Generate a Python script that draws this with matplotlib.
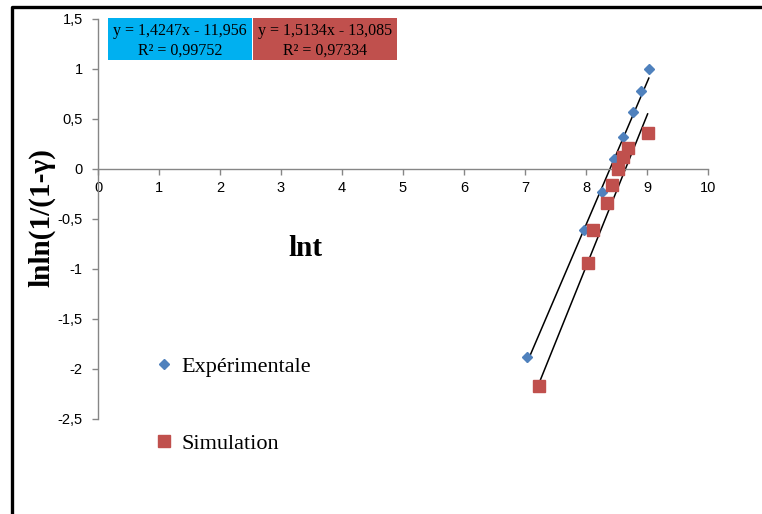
import numpy as np
import matplotlib.pyplot as plt
from matplotlib.lines import Line2D
from matplotlib.patches import Rectangle

# data
exp_x = [7.04, 7.96, 8.27, 8.46, 8.61, 8.77, 8.90, 9.03]
exp_y = [-1.88, -0.61, -0.23, 0.10, 0.32, 0.57, 0.78, 1.00]
sim_x = [7.23, 8.04, 8.12, 8.35, 8.43, 8.53, 8.61, 8.69, 9.01]
sim_y = [-2.17, -0.94, -0.61, -0.34, -0.16, 0.00, 0.12, 0.21, 0.36]

# trendline coefficients as printed on the chart
exp_fit = (1.4247, -11.956, 0.99752)
sim_fit = (1.5134, -13.085, 0.97334)

x_ticks = [0, 1, 2, 3, 4, 5, 6, 7, 8, 9, 10]
y_ticks = [-2.5, -2, -1.5, -1, -0.5, 0, 0.5, 1, 1.5]
y_labels = ['-2,5', '-2', '-1,5', '-1', '-0,5', '0', '0,5', '1', '1,5']

blue = '#4F81BD'
red = '#C0504D'
axis_grey = '#868686'

W, H = 762, 514
fig = plt.figure(figsize=(W / 100, H / 100), dpi=100)
ax = fig.add_axes([98 / W, 1 - 419 / H, 610 / W, 400 / H])

ax.plot(exp_x, exp_y, 'D', color=blue, markersize=5.6, label='Expérimentale', zorder=3)
ax.plot(sim_x, sim_y, 's', color=red, markersize=8, label='Simulation', zorder=3)

for xs, (a, b, r2) in [(exp_x, exp_fit), (sim_x, sim_fit)]:
    xx = np.array([min(xs), max(xs)])
    ax.plot(xx, a * xx + b, color='black', lw=1.1, zorder=2)

ax.set_xlim(0, 10)
ax.set_ylim(-2.5, 1.5)
ax.set_xticks(x_ticks)
ax.set_xticklabels([str(t) for t in x_ticks])
ax.set_yticks(y_ticks)
ax.set_yticklabels(y_labels)

for s in ['top', 'right']:
    ax.spines[s].set_visible(False)
ax.spines['bottom'].set_position(('data', 0))
for s in ['bottom', 'left']:
    ax.spines[s].set_color(axis_grey)
    ax.spines[s].set_linewidth(1.0)
ax.tick_params(axis='both', colors=axis_grey, length=4, width=1, labelcolor='black',
               labelsize=10.5)
ax.tick_params(axis='x', pad=5)
ax.tick_params(axis='y', pad=7)
for lab in ax.get_xticklabels() + ax.get_yticklabels():
    lab.set_fontfamily('Liberation Sans')

fig.text(42 / W, 1 - 218 / H, 'lnln(1/(1-γ)', rotation=90, ha='center', va='center',
         family='Liberation Serif', fontweight='bold', fontsize=21)
fig.text(305 / W, 1 - 249 / H, 'lnt', ha='center', va='center',
         family='Liberation Serif', fontweight='bold', fontsize=21)

ax.legend(loc='upper left', bbox_to_anchor=(136 / W, 1 - 336 / H),
          bbox_transform=fig.transFigure, frameon=False, handlelength=0.7,
          handletextpad=0.45, labelspacing=2.55,
          prop={'family': 'Liberation Serif', 'size': 16})

# equation boxes
boxes = [(108, '#00B0F0', exp_fit), (253, red, sim_fit)]
for x0, col, (a, b, r2) in boxes:
    fig.add_artist(Rectangle((x0 / W, 1 - 60 / H), 144 / W, 42 / H,
                             transform=fig.transFigure, facecolor=col, edgecolor='none'))
    eq = f'y = {a:.4f}x - {abs(b):.3f}'.replace('.', ',')
    r = f'R² = {r2:.5f}'.replace('.', ',')
    fig.text((x0 + 72) / W, 1 - 31 / H, eq, ha='center', va='center',
             family='Liberation Serif', fontsize=11.5)
    fig.text((x0 + 72) / W, 1 - 51 / H, r, ha='center', va='center',
             family='Liberation Serif', fontsize=11.5)

# outer frame (only left and top visible)
fig.add_artist(Line2D([12 / W, 12 / W, 1], [0, 1 - 6.5 / H, 1 - 6.5 / H],
                      transform=fig.transFigure, color='black', lw=2.4))

fig.savefig('out.png', dpi=100)
